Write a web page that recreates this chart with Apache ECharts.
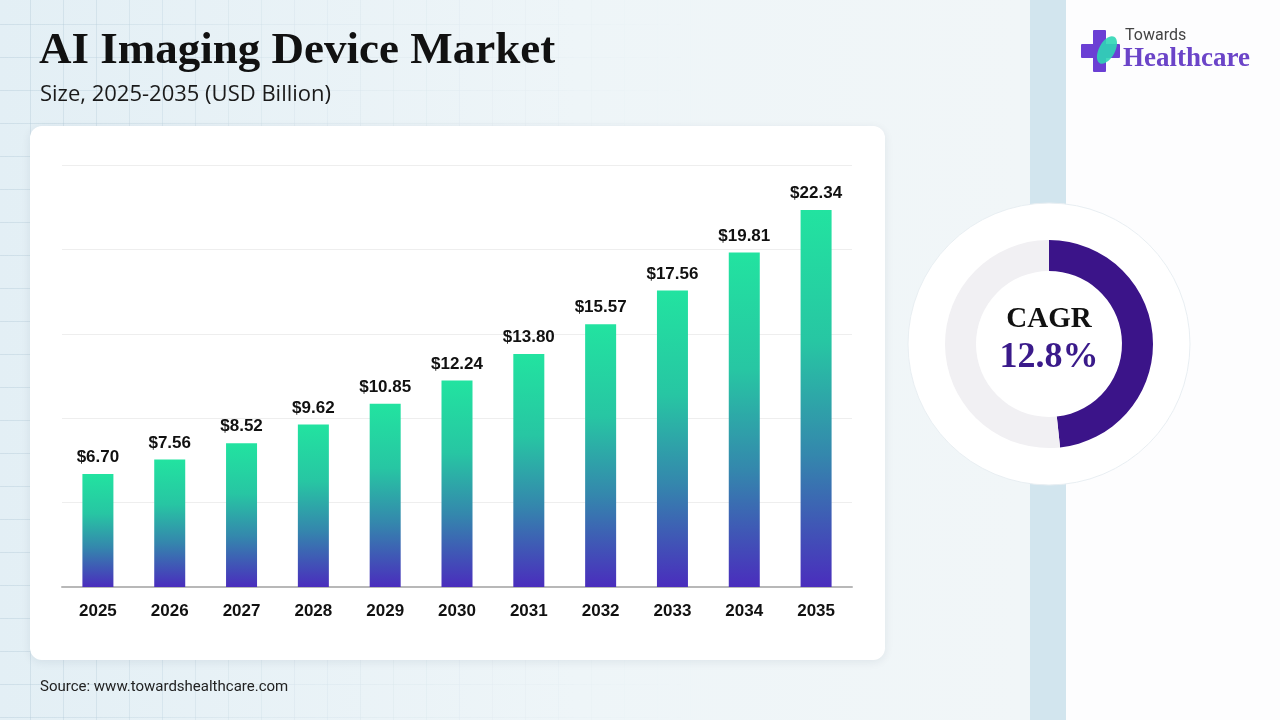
<!DOCTYPE html>
<html><head><meta charset="utf-8">
<script src="https://cdn.jsdelivr.net/npm/echarts@6/dist/echarts.min.js"></script>
<style>
html,body{margin:0;padding:0;width:1280px;height:720px;overflow:hidden;}
body{background:linear-gradient(90deg,#e3eff5 0%,#eef5f8 45%,#f1f6f8 80%,#f3f7f9 100%);}
#grid{position:absolute;left:0;top:0;width:700px;height:720px;
background-image:linear-gradient(rgba(170,195,210,0.35) 1px,transparent 1px),linear-gradient(90deg,rgba(170,195,210,0.35) 1px,transparent 1px);
background-size:33px 33px;background-position:-3px -9px;
-webkit-mask-image:linear-gradient(90deg,rgba(0,0,0,1) 0%,rgba(0,0,0,0.4) 40%,rgba(0,0,0,0) 100%);}
#strip{position:absolute;left:1030px;top:0;width:36px;height:720px;background:#d2e5ee;}
#panel{position:absolute;left:1066px;top:0;width:214px;height:720px;background:#fdfdfe;}
#chart{position:absolute;left:0;top:0;width:1280px;height:720px;}
</style></head>
<body>
<div id="grid"></div><div id="strip"></div><div id="panel"></div>
<div id="chart"></div>
<script>
const years = ['2025','2026','2027','2028','2029','2030','2031','2032','2033','2034','2035'];
const marketSize = [6.70, 7.56, 8.52, 9.62, 10.85, 12.24, 13.80, 15.57, 17.56, 19.81, 22.34];
const cagrText = '12.8%';
const cagrArc = [48.3, 51.7];

const chart = echarts.init(document.getElementById('chart'));
const barGrad = new echarts.graphic.LinearGradient(0,0,0,1,[
  {offset:0,color:'#22e3a0'},{offset:0.35,color:'#27c6a3'},{offset:0.65,color:'#3487ad'},{offset:1,color:'#4a2dbd'}]);
const sans = '"Liberation Sans", Arial, sans-serif';
const serif = '"Liberation Serif", "DejaVu Serif", serif';
chart.setOption({
  animation:false,
  graphic:[
    {type:'rect',z:-10,shape:{x:30,y:126,width:855,height:534,r:12},style:{fill:'#ffffff',shadowBlur:10,shadowColor:'rgba(0,40,70,0.08)',shadowOffsetY:2}},
    {type:'text',left:39,top:29,style:{text:'AI Imaging Device Market',font:'bold 45px '+serif,fill:'#111111'}},
    {type:'text',left:40,top:84,style:{text:'Size, 2025-2035 (USD Billion)',font:'22px "Open Sans", Roboto, sans-serif',fill:'#1a1a1a'}},
    {type:'text',left:40,top:680,style:{text:'Source: www.towardshealthcare.com',font:'15px Roboto, "Open Sans", sans-serif',fill:'#222222'}},
    {type:'circle',z:-5,shape:{cx:1049,cy:344,r:141},style:{fill:'#ffffff',stroke:'#e8eef2',lineWidth:1}},
    {type:'text',z:10,style:{x:1049,y:320,text:'CAGR',align:'center',verticalAlign:'middle',font:'bold 29px '+serif,fill:'#111111'}},
    {type:'text',z:10,style:{x:1049,y:358,text:cagrText,align:'center',verticalAlign:'middle',font:'bold 36px '+serif,fill:'#3a1a8a'}},
    // logo
    {type:'rect',shape:{x:1093,y:30,width:13,height:42,r:1},style:{fill:'#6b3fd4'}},
    {type:'rect',shape:{x:1081,y:44,width:39,height:14,r:1},style:{fill:'#6b3fd4'}},
    {type:'ellipse',shape:{cx:1107,cy:50,rx:8,ry:15},rotation:-0.5,originX:1107,originY:50,style:{fill:'#2fd6b5',opacity:0.9}},
    {type:'text',left:1125,top:28,style:{text:'Towards',font:'16px Roboto, "Open Sans", sans-serif',fill:'#444444'}},
    {type:'text',left:1123,top:46,style:{text:'Healthcare',font:'bold 27px '+serif,fill:'#6b44c8'}}
  ],
  grid:{left:62,right:1280-852,top:165,bottom:720-587},
  xAxis:{type:'category',data:years,axisTick:{show:false},
    axisLine:{lineStyle:{color:'#b8b8b8',width:2}},
    axisLabel:{margin:16,color:'#111',fontSize:17,fontWeight:'bold',fontFamily:sans}},
  yAxis:{type:'value',min:0,max:25,interval:5,axisLabel:{show:false},axisLine:{show:false},axisTick:{show:false},
    splitLine:{lineStyle:{color:'#eeeeee',width:1}}},
  series:[
    {type:'bar',data:marketSize,barWidth:31,itemStyle:{color:barGrad},
      label:{show:true,position:'top',distance:8,formatter:p=>'$'+p.value.toFixed(2),color:'#111',fontSize:17,fontWeight:'bold',fontFamily:sans}},
    {type:'pie',center:[1049,344],radius:[73,104],startAngle:90,clockwise:true,silent:true,label:{show:false},labelLine:{show:false},
      data:[{value:cagrArc[0],itemStyle:{color:'#3b1489'}},{value:cagrArc[1],itemStyle:{color:'#f1f0f3'}}]}
  ]
});
</script>
</body></html>
